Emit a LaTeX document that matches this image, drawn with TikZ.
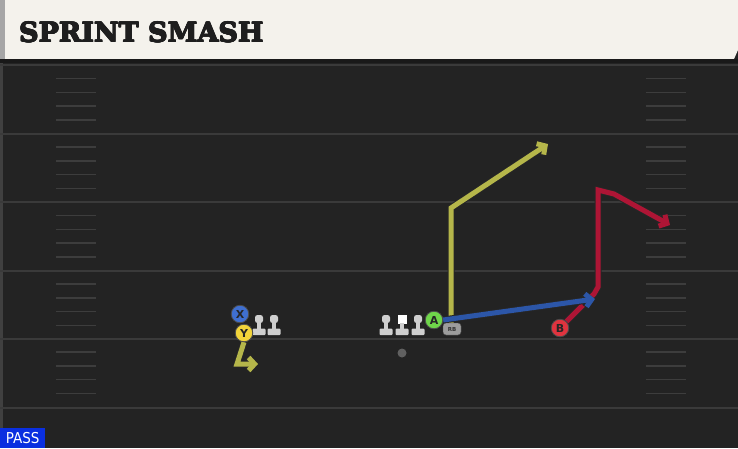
\documentclass[tikz,border=0pt]{standalone}
\usepackage{fontspec}
\setmainfont{DejaVu Sans}
\newfontfamily\titlefont{DejaVu Serif}
\newfontfamily\passfont{DejaVu Sans Condensed}
\usetikzlibrary{arrows.meta}
\definecolor{field}{HTML}{232323}
\definecolor{header}{HTML}{F4F2EC}
\definecolor{yardc}{HTML}{3A3A3A}
\definecolor{hashc}{HTML}{3D3D3D}
\definecolor{yroute}{HTML}{B5B64A}
\definecolor{broute}{HTML}{2C56A8}
\definecolor{rroute}{HTML}{AE1535}
\definecolor{xblue}{HTML}{3F6FD0}
\definecolor{yyellow}{HTML}{F2D43A}
\definecolor{agreen}{HTML}{6FD64A}
\definecolor{bred}{HTML}{E0343F}
\definecolor{lmgray}{HTML}{CFCFCF}
\definecolor{rbgray}{HTML}{9C9C9C}
\definecolor{passblue}{HTML}{0A2FE0}
\definecolor{titlec}{HTML}{1E1E1E}
\pgfdeclarelayer{bg}
\pgfdeclarelayer{routes}
\pgfsetlayers{bg,routes,main}
\tikzset{
  yard/.style={draw=yardc, line width=2pt},
  hashmark/.style={draw=hashc, line width=1.5pt},
  player/.style={circle, minimum size=17.5pt, inner sep=0pt, draw=black!70, line width=0.8pt, font=\bfseries\fontsize{11}{11}\selectfont, text=black!85},
  tipa/.style={-{Straight Barb[length=6pt,width=13pt]}},
  routeout/.style={draw=black!85, line width=7pt, line join=miter},
  routein/.style={line width=5pt, line join=miter},
  titletext/.style={anchor=west, inner sep=0pt, font=\titlefont\bfseries\fontsize{27}{27}\selectfont, text=titlec},
  lineman/.pic={
    \fill[lmgray, rounded corners=2.5pt] (-4,-10) rectangle (4,-2);
    \fill[lmgray] (-2.2,-3) rectangle (2.2,4);
    \fill[lmgray, rounded corners=1pt] (-6.5,3.5) rectangle (6.5,10);
  },
  centerman/.pic={
    \fill[white] (-4.5,-10) rectangle (4.5,-1);
    \fill[lmgray] (-2.2,-2) rectangle (2.2,4);
    \fill[lmgray, rounded corners=1pt] (-6.5,3.5) rectangle (6.5,10);
  }
}
\begin{document}
\begin{tikzpicture}[x=1pt,y=-1pt]
\useasboundingbox (0,0) rectangle (738,448);
\begin{pgfonlayer}{bg}
\fill[field] (0,0) rectangle (738,448);
\fill[black!35!gray!60!field] (0,60) rectangle (2.5,448);
\fill[header] (3,0) -- (738,0) -- (738,50) -- (734,59) -- (3,59) -- cycle;
\fill[gray!70] (0,0) rectangle (5,59);
\fill[black!90] (0,59) rectangle (738,63);
\foreach \y in {65,133.5,202,270.5,338.5,408}
  \draw[yard] (0,\y) -- (738,\y);
\foreach \y in {65,133.5,202,270.5,338.5}
  \foreach \k in {1,2,3,4} {
    \draw[hashmark] (56,\y+\k*13.7) -- (96,\y+\k*13.7);
    \draw[hashmark] (646,\y+\k*13.7) -- (686,\y+\k*13.7);
  }
% heavier title strokes
\foreach \dx/\dy in {0.5/0,-0.5/0,0/0.5,0/-0.5,0.4/0.4,-0.4/-0.4,0.4/-0.4,-0.4/0.4}
  \node[titletext] at (19+\dx,32.5+\dy) {SPRINT SMASH};
\end{pgfonlayer}

\node[titletext] (title) at (19,32.5) {SPRINT SMASH};
\node[anchor=south west, fill=passblue, text=white, inner sep=0pt, minimum width=45pt, minimum height=20pt, font=\passfont\fontsize{15}{15}\selectfont] (pass) at (0,448) {PASS};

% linemen
\pic at (259,325) {lineman};
\pic at (274,325) {lineman};
\pic at (386,325) {lineman};
\pic at (402,325) {centerman};
\pic at (418,325) {lineman};

% ball
\node[circle, fill=gray!75!black, minimum size=9pt, inner sep=0pt] (ball) at (402,353) {};

% players
\node[player, fill=xblue] (X) at (240,314) {X};
\node[player, fill=yyellow] (Y) at (244,333) {Y};
\node[player, fill=agreen] (A) at (434,320) {A};
\node[player, fill=bred] (B) at (560,328) {B};
\node[fill=rbgray, draw=black!70, rounded corners=3pt, minimum width=18pt, minimum height=12pt, inner sep=0pt, text=black!80, font=\bfseries\fontsize{5.5}{5.5}\selectfont] (RB) at (452,329) {RB};

% route points
\coordinate (y1) at (451,208);
\coordinate (y2) at (548,144);
\coordinate (b1) at (595,299);
\coordinate (r1) at (594,294);
\coordinate (r2) at (598,287);
\coordinate (r3) at (598,190);
\coordinate (r4) at (614,194);
\coordinate (r5) at (670,225);
\coordinate (s1) at (237,364);
\coordinate (s2) at (258,364);

\begin{pgfonlayer}{routes}
\foreach \sty/\col in {routeout/black!85, routein/yroute}
  \draw[\sty, draw=\col, tipa] (RB.north -| y1) -- (y1) -- (y2);
\foreach \sty/\col in {routeout/black!85, routein/rroute}
  \draw[\sty, draw=\col, tipa] (B.north east) -- (r1) -- (r2) -- (r3) -- (r4) -- (r5);
\foreach \sty/\col in {routeout/black!85, routein/broute}
  \draw[\sty, draw=\col, tipa] (A.east) -- (b1);
\foreach \sty/\col in {routeout/black!85, routein/yroute}
  \draw[\sty, draw=\col, tipa] (Y.south) -- (s1) -- (s2);
\end{pgfonlayer}
\end{tikzpicture}
\end{document}
